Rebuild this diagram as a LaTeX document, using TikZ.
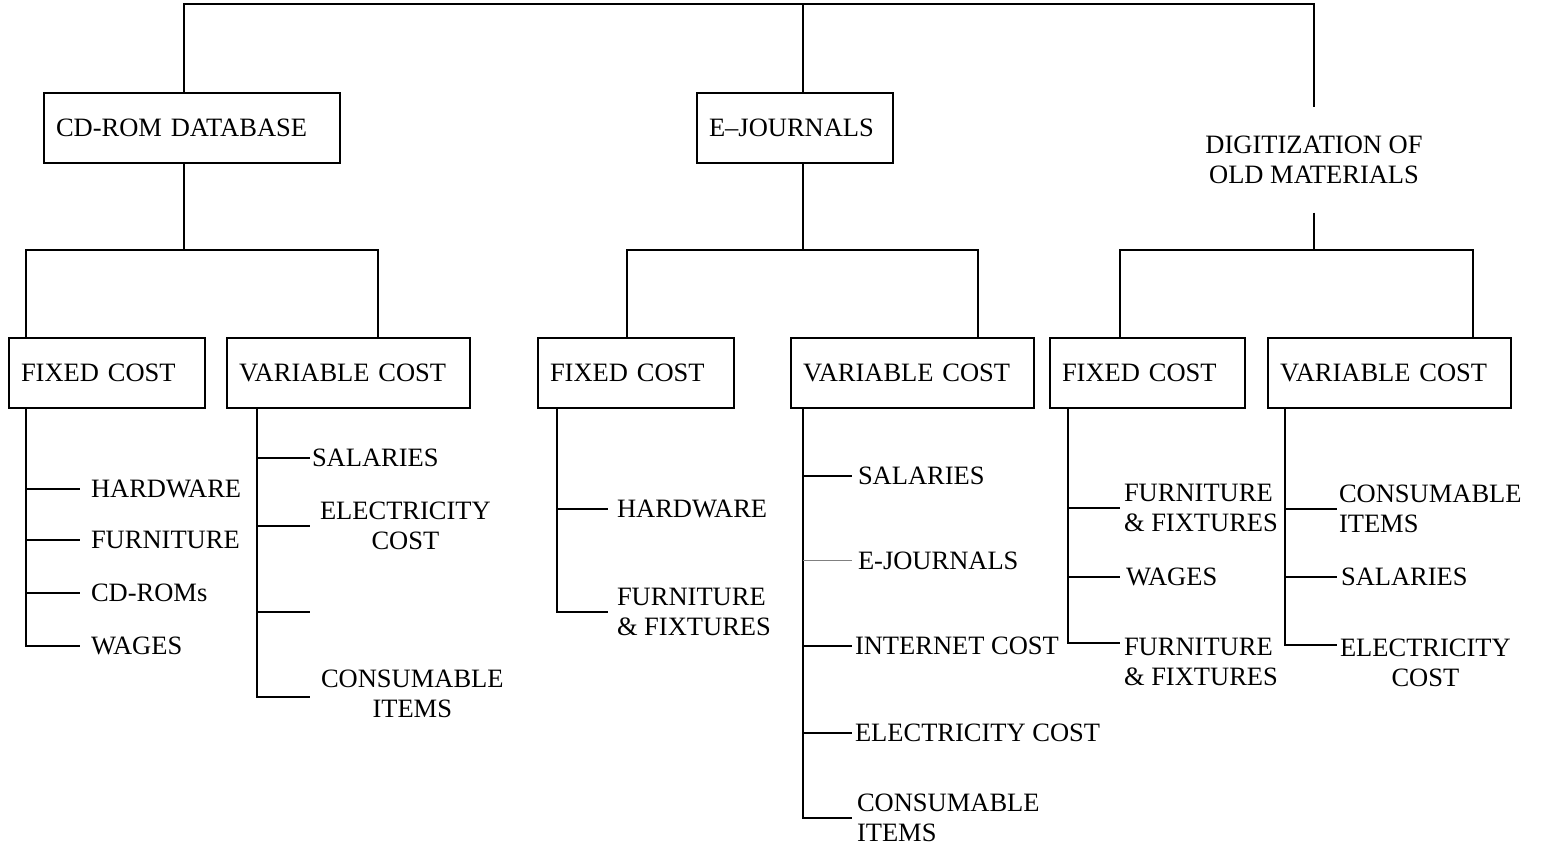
\documentclass[tikz,border=0pt]{standalone}
\usepackage{fontspec}
\setmainfont{Liberation Serif}
\begin{document}
\begin{tikzpicture}[x=0.5pt,y=-0.5pt, line width=1pt,
  every node/.style={font=\fontsize{13.25}{14.75}\selectfont},
  box/.style={draw, anchor=north west, inner xsep=6pt, inner ysep=0pt, minimum height=35pt, align=left},
  lab/.style={anchor=west, inner xsep=#1, inner ysep=0pt},
  lab/.default=5pt,
  thin tick/.style={line width=0.5pt, gray}]
\useasboundingbox (0,0) rectangle (1558,849);

% top level boxes
\node[box, text width=136pt] (cd) at (43,92) {CD-ROM DATABASE};
\node[box, text width=86pt] (ej) at (696,92) {E--JOURNALS};
\node[align=center, inner ysep=14pt] (dig) at (1314,160) {DIGITIZATION OF\\OLD MATERIALS};

% cost boxes
\node[box, text width=86pt] (fc1) at (8,337) {FIXED COST};
\node[box, text width=109.5pt] (vc1) at (226,337) {VARIABLE COST};
\node[box, text width=86pt] (fc2) at (537,337) {FIXED COST};
\node[box, text width=109.5pt] (vc2) at (790,337) {VARIABLE COST};
\node[box, text width=85.5pt] (fc3) at (1049,337) {FIXED COST};
\node[box, text width=109.5pt] (vc3) at (1267,337) {VARIABLE COST};

% junction coordinates
\coordinate (T1) at (184,4);
\coordinate (T2) at (803,4);
\coordinate (T3) at (1314,4);
\coordinate (B1) at (184,250);
\coordinate (L1) at (26,250);
\coordinate (R1) at (378,250);
\coordinate (B2) at (803,250);
\coordinate (L2) at (627,250);
\coordinate (R2) at (978,250);
\coordinate (B3) at (1314,250);
\coordinate (L3) at (1120,250);
\coordinate (R3) at (1473,250);

% top connectors
\draw (cd.north -| T1) -- (T1) -- (T3) -- (dig.north);
\draw (T2) -- (ej.north -| T2);
\draw (cd.south -| B1) -- (B1);
\draw (ej.south -| B2) -- (B2);
\draw (dig.south) -- (B3);
\draw (fc1.north -| L1) -- (L1) -- (R1) -- (vc1.north -| R1);
\draw (fc2.north -| L2) -- (L2) -- (R2) -- (vc2.north -| R2);
\draw (fc3.north -| L3) -- (L3) -- (R3) -- (vc3.north -| R3);

% vertical stems
\coordinate (V1) at (26,0);
\coordinate (V2) at (257,0);
\coordinate (V3) at (557,0);
\coordinate (V4) at (803,0);
\coordinate (V5) at (1068,0);
\coordinate (V6) at (1285,0);

% group 1 fixed
\node[lab] (hw1) at (80,489) {HARDWARE};
\node[lab] (fu1) at (80,540) {FURNITURE};
\node[lab] (cr1) at (80,593) {CD-ROMs};
\node[lab] (wa1) at (80,646) {WAGES};
\draw (fc1.south -| V1) |- (wa1.west);
\draw (hw1.west -| V1) -- (hw1.west);
\draw (fu1.west -| V1) -- (fu1.west);
\draw (cr1.west -| V1) -- (cr1.west);

% group 1 variable
\node[lab=0.5pt] (sa1) at (310,458) {SALARIES};
\node[lab=4.5pt, align=center] (el1) at (310,526) {ELECTRICITY\\COST};
\coordinate (bl1) at (310,612);
\node[lab=5pt, align=center] (co1) at (310,694) {CONSUMABLE\\ITEMS};
\draw (vc1.south -| V2) |- ([yshift=-1.5pt]co1.west);
\draw (sa1.west -| V2) -- (sa1.west);
\draw (el1.west -| V2) -- (el1.west);
\draw (bl1 -| V2) -- (bl1);

% group 2 fixed
\node[lab=4pt] (hw2) at (608,509) {HARDWARE};
\node[lab=4pt, align=left] (ff2) at (608,612) {FURNITURE\\\& FIXTURES};
\draw (fc2.south -| V3) |- (ff2.west);
\draw (hw2.west -| V3) -- (hw2.west);

% group 2 variable
\node[lab=2.5pt] (sa2) at (852,476) {SALARIES};
\node[lab=2.5pt] (ej2) at (852,561) {E-JOURNALS};
\node[lab=1pt] (in2) at (852,646) {INTERNET COST};
\node[lab=1pt] (el2) at (852,733) {ELECTRICITY COST};
\node[lab=2pt, align=left] (co2) at (852,818) {CONSUMABLE\\ITEMS};
\draw (vc2.south -| V4) |- (co2.west);
\draw (sa2.west -| V4) -- (sa2.west);
\draw[thin tick] (ej2.west -| V4) -- (ej2.west);
\draw (in2.west -| V4) -- (in2.west);
\draw (el2.west -| V4) -- (el2.west);

% group 3 fixed
\node[lab=1.5pt, align=left] (ffa3) at (1120,508) {FURNITURE\\\& FIXTURES};
\node[lab=2.5pt] (wa3) at (1120,577) {WAGES};
\node[lab=1.5pt, align=left] (ffb3) at (1120,662) {FURNITURE\\\& FIXTURES};
\draw (fc3.south -| V5) |- ([yshift=9.5pt]ffb3.west);
\draw (ffa3.west -| V5) -- (ffa3.west);
\draw (wa3.west -| V5) -- (wa3.west);

% group 3 variable
\node[lab=0.5pt, align=left] (cs3) at (1337,509) {CONSUMABLE\\ITEMS};
\node[lab=1.5pt] (sa3) at (1337,577) {SALARIES};
\node[lab=1pt, align=center] (el3) at (1337,663) {ELECTRICITY\\COST};
\draw (vc3.south -| V6) |- ([yshift=9pt]el3.west);
\draw (cs3.west -| V6) -- (cs3.west);
\draw (sa3.west -| V6) -- (sa3.west);
\end{tikzpicture}
\end{document}
